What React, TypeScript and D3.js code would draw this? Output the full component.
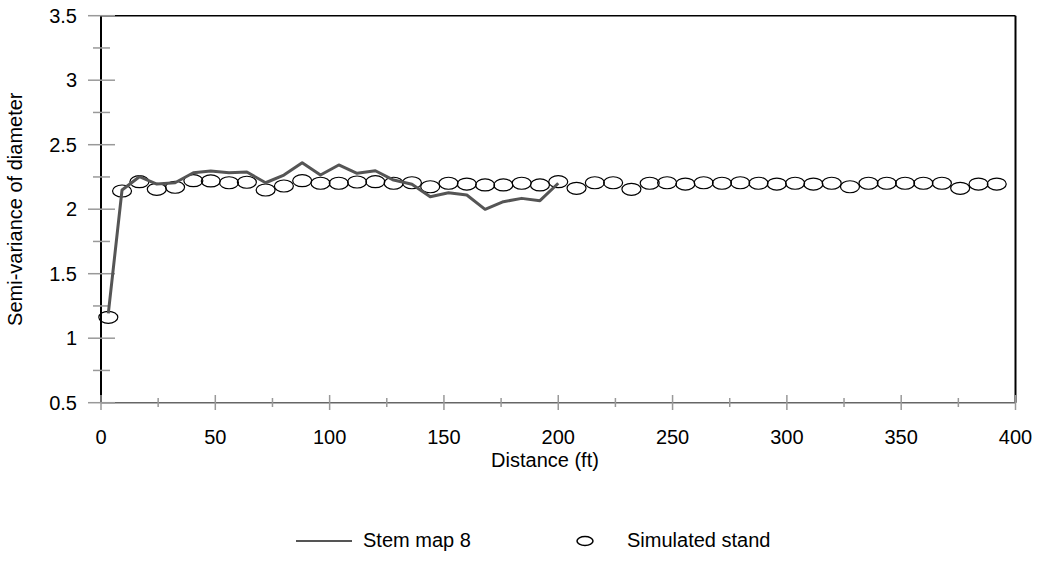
import React from "react";
import * as d3 from "d3";

const simDistance = [3.2, 9.2, 16.8, 24.4, 32.4, 40.4, 48, 56, 63.8, 72, 80, 88, 96, 104, 112, 120, 128, 136, 144, 152, 160, 168, 176, 184, 192, 200, 208, 216, 224, 232, 240, 247.6, 255.6, 263.6, 271.6, 279.6, 287.6, 295.6, 303.6, 311.6, 319.6, 327.6, 335.7, 343.7, 351.7, 359.7, 367.8, 375.8, 383.8, 391.8];
const simValues = [1.162, 2.141, 2.213, 2.154, 2.17, 2.221, 2.219, 2.205, 2.209, 2.149, 2.18, 2.221, 2.201, 2.201, 2.211, 2.213, 2.201, 2.205, 2.174, 2.201, 2.195, 2.188, 2.188, 2.201, 2.188, 2.213, 2.162, 2.205, 2.205, 2.154, 2.201, 2.205, 2.195, 2.205, 2.201, 2.205, 2.201, 2.195, 2.201, 2.195, 2.201, 2.174, 2.201, 2.201, 2.201, 2.201, 2.201, 2.162, 2.195, 2.195];

const stemDistance = [3.2, 9.2, 16.8, 24.4, 32.4, 40.4, 48, 56, 63.8, 72, 80, 88, 96, 104, 112, 120, 128, 136, 144, 152, 160, 168, 176, 184, 192, 200];
const stemValues = [1.193, 2.149, 2.252, 2.195, 2.205, 2.283, 2.296, 2.283, 2.288, 2.205, 2.265, 2.36, 2.265, 2.343, 2.278, 2.298, 2.226, 2.193, 2.097, 2.128, 2.11, 1.999, 2.058, 2.084, 2.066, 2.201];

const xMajorTicks = [0, 50, 100, 150, 200, 250, 300, 350, 400];
const xMinorTicks = [25, 75, 125, 175, 225, 275, 325, 375];
const yMajorTicks = [0.5, 1, 1.5, 2, 2.5, 3, 3.5];
const yMinorTicks = [0.75, 1.25, 1.75, 2.25, 2.75, 3.25];

const seriesNames = ["Stem map 8", "Simulated stand"];
const xTitle = "Distance (ft)";
const yTitle = "Semi-variance of diameter";

export default function App() {
  const W = 1037, H = 564;
  const left = 101, right = 1015.5, top = 15.7, bottom = 402.7;
  const x = d3.scaleLinear().domain([0, 400]).range([left, right]);
  const y = d3.scaleLinear().domain([0.5, 3.5]).range([bottom, top]);
  const font = "'Liberation Sans', Arial, sans-serif";
  const fs = 20;

  const line = d3
    .line<number>()
    .x((_, i) => x(stemDistance[i]))
    .y((d) => y(d));

  return (
    <svg
      width={W}
      height={H}
      style={{ position: "absolute", left: 0, top: 0, background: "#fff" }}
      fontFamily={font}
    >
      <rect x={0} y={0} width={W} height={H} fill="#fff" />
      {/* frame */}
      <line x1={left} x2={right} y1={top} y2={top} stroke="#000" strokeWidth={1.5} />
      <line x1={right} x2={right} y1={top} y2={bottom} stroke="#000" strokeWidth={2} />
      <line x1={left} x2={right} y1={bottom} y2={bottom} stroke="#666" strokeWidth={1.5} />
      <line x1={left} x2={left} y1={top} y2={bottom} stroke="#000" strokeWidth={2} />

      {/* y ticks */}
      {yMajorTicks.map((t) => (
        <g key={"ym" + t}>
          <line x1={88} x2={115} y1={y(t)} y2={y(t)} stroke="#999" strokeWidth={1.5} />
          <text x={77} y={y(t)} dy="0.35em" textAnchor="end" fontSize={fs} fill="#000">
            {String(t)}
          </text>
        </g>
      ))}
      {yMinorTicks.map((t) => (
        <line key={"yn" + t} x1={93} x2={110} y1={y(t)} y2={y(t)} stroke="#999" strokeWidth={1.5} />
      ))}

      {/* x ticks */}
      {xMajorTicks.map((t) => (
        <g key={"xm" + t}>
          <line x1={x(t)} x2={x(t)} y1={395} y2={410} stroke="#999" strokeWidth={1.5} />
          <text x={x(t)} y={444} textAnchor="middle" fontSize={fs} fill="#000">
            {String(t)}
          </text>
        </g>
      ))}
      {xMinorTicks.map((t) => (
        <line key={"xn" + t} x1={x(t)} x2={x(t)} y1={398} y2={407} stroke="#999" strokeWidth={1.5} />
      ))}

      {/* titles */}
      <text x={545} y={467} textAnchor="middle" fontSize={fs} fill="#000">
        {xTitle}
      </text>
      <text
        transform={`translate(22, ${(top + bottom) / 2}) rotate(-90)`}
        textAnchor="middle"
        fontSize={fs}
        fill="#000"
      >
        {yTitle}
      </text>

      {/* simulated stand */}
      {simValues.map((v, i) => (
        <ellipse
          key={"s" + i}
          cx={x(simDistance[i])}
          cy={y(v)}
          rx={9.5}
          ry={6}
          fill="none"
          stroke="#000"
          strokeWidth={1.2}
        />
      ))}

      {/* stem map line */}
      <path d={line(stemValues) || ""} fill="none" stroke="#555" strokeWidth={3} strokeLinejoin="round" />

      {/* legend */}
      <line x1={296} x2={352} y1={541} y2={541} stroke="#555" strokeWidth={2} />
      <text x={363} y={547} fontSize={fs} fill="#000">
        {seriesNames[0]}
      </text>
      <ellipse cx={585} cy={541} rx={8} ry={4.5} fill="none" stroke="#000" strokeWidth={1.5} />
      <text x={627} y={547} fontSize={fs} fill="#000">
        {seriesNames[1]}
      </text>
    </svg>
  );
}
